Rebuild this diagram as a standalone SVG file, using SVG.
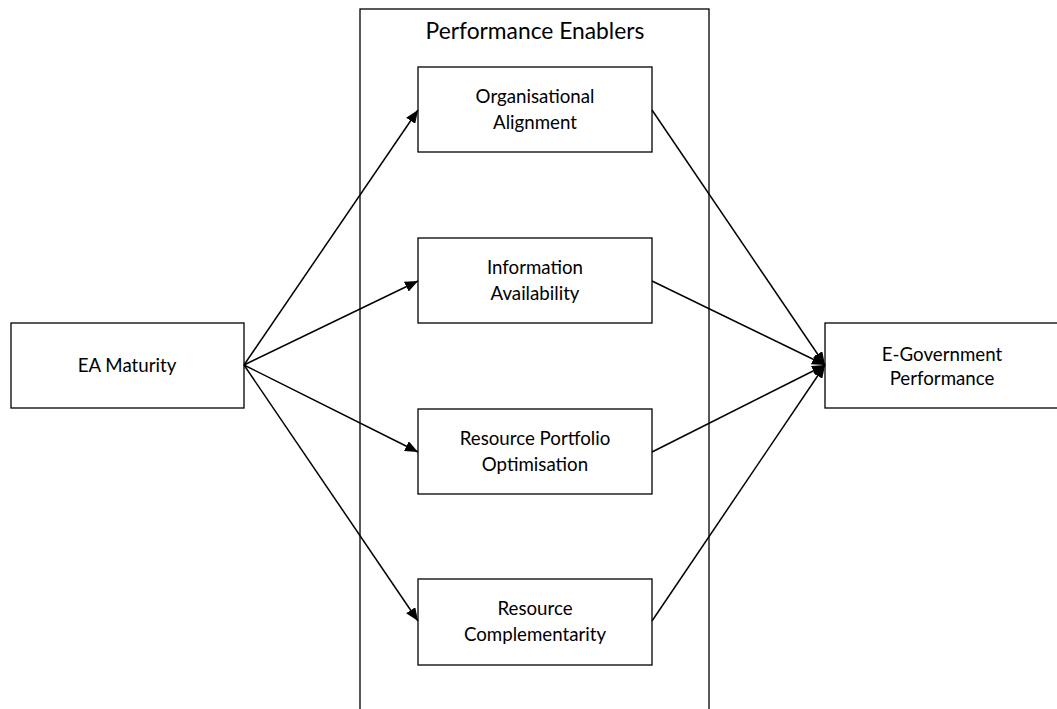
<svg xmlns="http://www.w3.org/2000/svg" width="1057" height="709" viewBox="0 0 1057 709">
<style>
.box{fill:#fff;stroke:#000;stroke-width:1.3}
.t{font-family:Lato,"Open Sans","Liberation Sans",sans-serif;font-size:18.7px;fill:#000;text-anchor:middle}
.title{font-family:Lato,"Open Sans","Liberation Sans",sans-serif;font-size:22.8px;fill:#000;text-anchor:middle}
.c{stroke:#000;stroke-width:1.5;fill:none;marker-end:url(#ah)}
</style>
<defs>
<marker id="ah" viewBox="0 0 13 11" refX="13" refY="5.5" markerWidth="13" markerHeight="11" markerUnits="userSpaceOnUse" orient="auto">
<path d="M0,0 L13,5.5 L0,11 Z" fill="#000"/>
</marker>
</defs>
<rect x="0" y="0" width="1057" height="709" fill="#fff"/>
<g id="container">
<rect class="box" x="360" y="9" width="349" height="710"/>
<text class="title" x="535" y="39">Performance Enablers</text>
</g>
<g id="ea">
<rect class="box" x="11" y="323" width="233" height="85"/>
<text class="t" x="127" y="372">EA Maturity</text>
</g>
<g id="egov">
<rect class="box" x="825" y="323" width="240" height="85"/>
<text class="t" x="942" y="361">E-Government</text>
<text class="t" x="942" y="385">Performance</text>
</g>
<g id="org">
<rect class="box" x="418" y="67" width="234" height="85"/>
<text class="t" x="535" y="103">Organisational</text>
<text class="t" x="535" y="129">Alignment</text>
</g>
<g id="info">
<rect class="box" x="418" y="238" width="234" height="85"/>
<text class="t" x="535" y="274">Information</text>
<text class="t" x="535" y="300">Availability</text>
</g>
<g id="rpo">
<rect class="box" x="418" y="409" width="234" height="85"/>
<text class="t" x="535" y="445">Resource Portfolio</text>
<text class="t" x="535" y="471">Optimisation</text>
</g>
<g id="rc">
<rect class="box" x="418" y="579" width="234" height="86"/>
<text class="t" x="535" y="615">Resource</text>
<text class="t" x="535" y="641">Complementarity</text>
</g>
<g id="connectors">
<line class="c" x1="244" y1="365" x2="418" y2="110"/>
<line class="c" x1="244" y1="365" x2="418" y2="281"/>
<line class="c" x1="244" y1="365" x2="418" y2="452"/>
<line class="c" x1="244" y1="365" x2="418" y2="621"/>
<line class="c" x1="652" y1="110" x2="825" y2="365"/>
<line class="c" x1="652" y1="281" x2="825" y2="365"/>
<line class="c" x1="652" y1="452" x2="825" y2="365"/>
<line class="c" x1="652" y1="621" x2="825" y2="365"/>
</g>
</svg>
